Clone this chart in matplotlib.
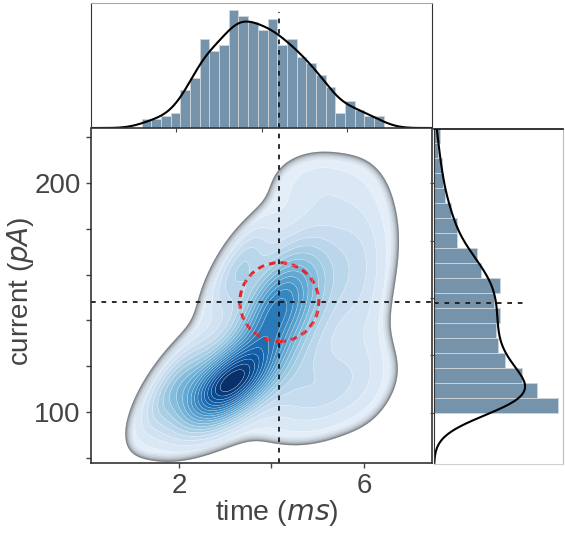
import numpy as np
import matplotlib
matplotlib.use("Agg")
import matplotlib.pyplot as plt
from matplotlib.patches import Ellipse, PathPatch
from matplotlib.path import Path
from matplotlib.ticker import FixedLocator, NullFormatter

plt.rcParams['font.family'] = ['Liberation Sans', 'DejaVu Sans']

# ---- marginal histograms -------------------------------------------------
time_bin_start = 1.19
time_bin_width = 0.227
time_counts = [3, 3, 4, 5, 13, 17, 30, 26, 28, 40, 38, 36, 33, 37, 28, 30,
               24, 22, 18, 14, 5, 9, 6, 4, 4]

current_bin_start = 100.0
current_bin_width = 6.54
current_counts = [66, 55, 47, 38, 34, 33, 35, 32, 35, 25, 23, 12, 12, 9, 6,
                  5, 4, 2, 3]

# ---- joint density: mixture components (time in ms, current in pA) -------
comp_weight = [0.25, 0.13, 0.14, 0.28, 0.02, 0.08, 0.04, 0.025, 0.03]
comp_time = [3.1, 3.0, 4.1, 4.55, 5.0, 5.1, 1.9, 6.0, 3.3]
comp_current = [112.0, 114.0, 145.0, 150.0, 200.0, 110.0, 112.0, 152.0, 163.0]
comp_sd_time = [0.6, 0.9, 0.5, 1.0, 0.7, 0.85, 0.45, 0.35, 0.4]
comp_sd_current = [11.0, 16.0, 14.0, 24.0, 10.0, 13.0, 12.0, 26.0, 12.0]
comp_corr = [0.55, 0.7, 0.5, 0.5, 0.0, 0.3, 0.7, 0.0, 0.7]

# reference markers
time_mark = 4.17
current_mark = 148.0
time_mark_top = 4.42

xlim_main = (0.1, 7.47)
ylim_main = (77.6, 223.7)

fig = plt.figure(figsize=(5.65, 5.37), dpi=100)
W, H = 565.0, 537.0


def box(l, t, r, b):
    return [l / W, 1 - b / H, (r - l) / W, (b - t) / H]


ax = fig.add_axes(box(91, 129, 432, 463))
ax_top = fig.add_axes(box(91, 3, 432, 128))
ax_right = fig.add_axes(box(434, 129, 563, 464))

# ---- joint density grid ---------------------------------------------------
gx = np.linspace(xlim_main[0], xlim_main[1], 400)
gy = np.linspace(ylim_main[0], ylim_main[1], 400)
X, Y = np.meshgrid(gx, gy)
Z = np.zeros_like(X)
for w, mx, my, sx, sy, r in zip(comp_weight, comp_time, comp_current,
                                comp_sd_time, comp_sd_current, comp_corr):
    u = (X - mx) / sx
    v = (Y - my) / sy
    q = (u * u - 2 * r * u * v + v * v) / (1 - r * r)
    Z += w * np.exp(-0.5 * q) / (2 * np.pi * sx * sy * np.sqrt(1 - r * r))

gamma = 1.4
low = 0.022
levels = Z.max() * np.linspace(low ** (1 / gamma), 1.0, 21) ** gamma
levels[-1] *= 1.0001

cmap = plt.get_cmap('Blues')
band_colors = [cmap(v) for v in np.linspace(0.1, 1.0, len(levels) - 1)]
ax.contourf(X, Y, Z, levels=levels, colors=band_colors, antialiased=True)
ax.contour(X, Y, Z, levels=levels[1:-1], colors='white', linewidths=0.4, alpha=0.4)

# soft grey rim inside the outer iso-line
outer = ax.contour(X, Y, Z, levels=[levels[0]], colors='none')
polys = outer.get_paths()[0].to_polygons()
poly = max(polys, key=len)
rim = PathPatch(Path(poly, closed=True), transform=ax.transData,
                facecolor='none', edgecolor='none')
ax.add_patch(rim)
for lw, a in [(11, 0.06), (8, 0.08), (5.5, 0.12), (3.5, 0.18), (1.8, 0.32)]:
    ln, = ax.plot(poly[:, 0], poly[:, 1], color='#3a3a3a', lw=lw, alpha=a,
                  solid_joinstyle='round')
    ln.set_clip_path(rim)

dash = (0, (2.6, 3.2))
ax.axvline(time_mark, color='#1a1a1a', lw=1.3, ls=dash)
ax.axhline(current_mark, color='#1a1a1a', lw=1.3, ls=dash)
ax.add_patch(Ellipse((time_mark, current_mark), 2 * 39.5 / 46.25, 2 * 39.5 / 2.294,
                     fill=False, edgecolor='#e0262d', lw=2.2, ls=(0, (2.2, 1.6))))

ax.set_xlim(*xlim_main)
ax.set_ylim(*ylim_main)
ax.xaxis.set_major_locator(FixedLocator([2, 6]))
ax.xaxis.set_minor_locator(FixedLocator([4]))
ax.yaxis.set_major_locator(FixedLocator([100, 200]))
ax.yaxis.set_minor_locator(FixedLocator([80, 120, 140, 160, 180, 220]))
ax.tick_params(which='both', direction='out', length=3.5, width=1.0,
               color='#444444', labelsize=20, labelcolor='#444444', pad=4)
ax.set_xlabel('time ($\\mathit{ms}$)', fontsize=20.5, color='#444444')
ax.set_ylabel('current ($\\mathit{pA}$)', fontsize=20, color='#444444')
ax.xaxis.set_label_coords(0.544, -0.105)
ax.yaxis.set_label_coords(-0.16, 0.515)
for s in ['left', 'bottom', 'right']:
    ax.spines[s].set_color('#333333')
    ax.spines[s].set_linewidth(1.2)
ax.spines['top'].set_visible(False)

# ---- marginal KDE from the binned counts ----------------------------------


def binned_kde(start, width, counts, grid):
    counts = np.asarray(counts, float)
    centers = start + width * (np.arange(len(counts)) + 0.5)
    n = counts.sum()
    mean = np.sum(counts * centers) / n
    sd = np.sqrt(np.sum(counts * (centers - mean) ** 2) / n)
    bw = sd * n ** (-1 / 5)
    d = np.zeros_like(grid)
    for c, m in zip(counts, centers):
        d += c * np.exp(-0.5 * ((grid - m) / bw) ** 2)
    d /= (bw * np.sqrt(2 * np.pi))
    return d * width


bar_face = '#7593ab'
bar_edge = '#cfd6dc'

# top
t_edges = time_bin_start + time_bin_width * np.arange(len(time_counts))
ax_top.bar(t_edges, time_counts, width=time_bin_width, align='edge',
           color=bar_face, edgecolor=bar_edge, linewidth=0.6)
tg = np.linspace(0, 8, 400)
ax_top.plot(tg, binned_kde(time_bin_start, time_bin_width, time_counts, tg),
            color='black', lw=1.5)
ax_top.axvline(time_mark_top, ymax=0.93, color='#1a1a1a', lw=1.3, ls=dash)
ax_top.set_xlim(0, 8)
ax_top.set_ylim(0, 42.3)
ax_top.xaxis.set_major_locator(FixedLocator([2, 4, 6]))
ax_top.xaxis.set_major_formatter(NullFormatter())
ax_top.set_yticks([])
ax_top.tick_params(axis='x', direction='out', length=3, color='#444444')
for s in ['left', 'right', 'bottom']:
    ax_top.spines[s].set_color('#333333')
ax_top.spines['bottom'].set_linewidth(1.2)
ax_top.spines['top'].set_color('#a8a8a8')

# right
c_edges = current_bin_start + current_bin_width * np.arange(len(current_counts))
ax_right.barh(c_edges, current_counts, height=current_bin_width, align='edge',
              color=bar_face, edgecolor=bar_edge, linewidth=0.6)
cg = np.linspace(ylim_main[0], ylim_main[1], 400)
ax_right.plot(binned_kde(current_bin_start, current_bin_width, current_counts, cg),
              cg, color='black', lw=1.5)
ax_right.axhline(current_mark, xmax=0.69, color='#1a1a1a', lw=1.3, ls=dash)
ax_right.set_ylim(*ylim_main)
ax_right.set_xlim(0, 68.6)
ax_right.yaxis.set_major_locator(FixedLocator([100, 125, 150, 175, 200]))
ax_right.yaxis.set_major_formatter(NullFormatter())
ax_right.set_xticks([])
ax_right.tick_params(axis='y', direction='out', length=3, color='#444444')
ax_right.spines['left'].set_color('#333333')
ax_right.spines['top'].set_color('#111111')
ax_right.spines['top'].set_linewidth(1.2)
ax_right.spines['right'].set_color('#bdbdbd')
ax_right.spines['bottom'].set_color('#d0d0d0')

fig.savefig('out.png', dpi=100)
